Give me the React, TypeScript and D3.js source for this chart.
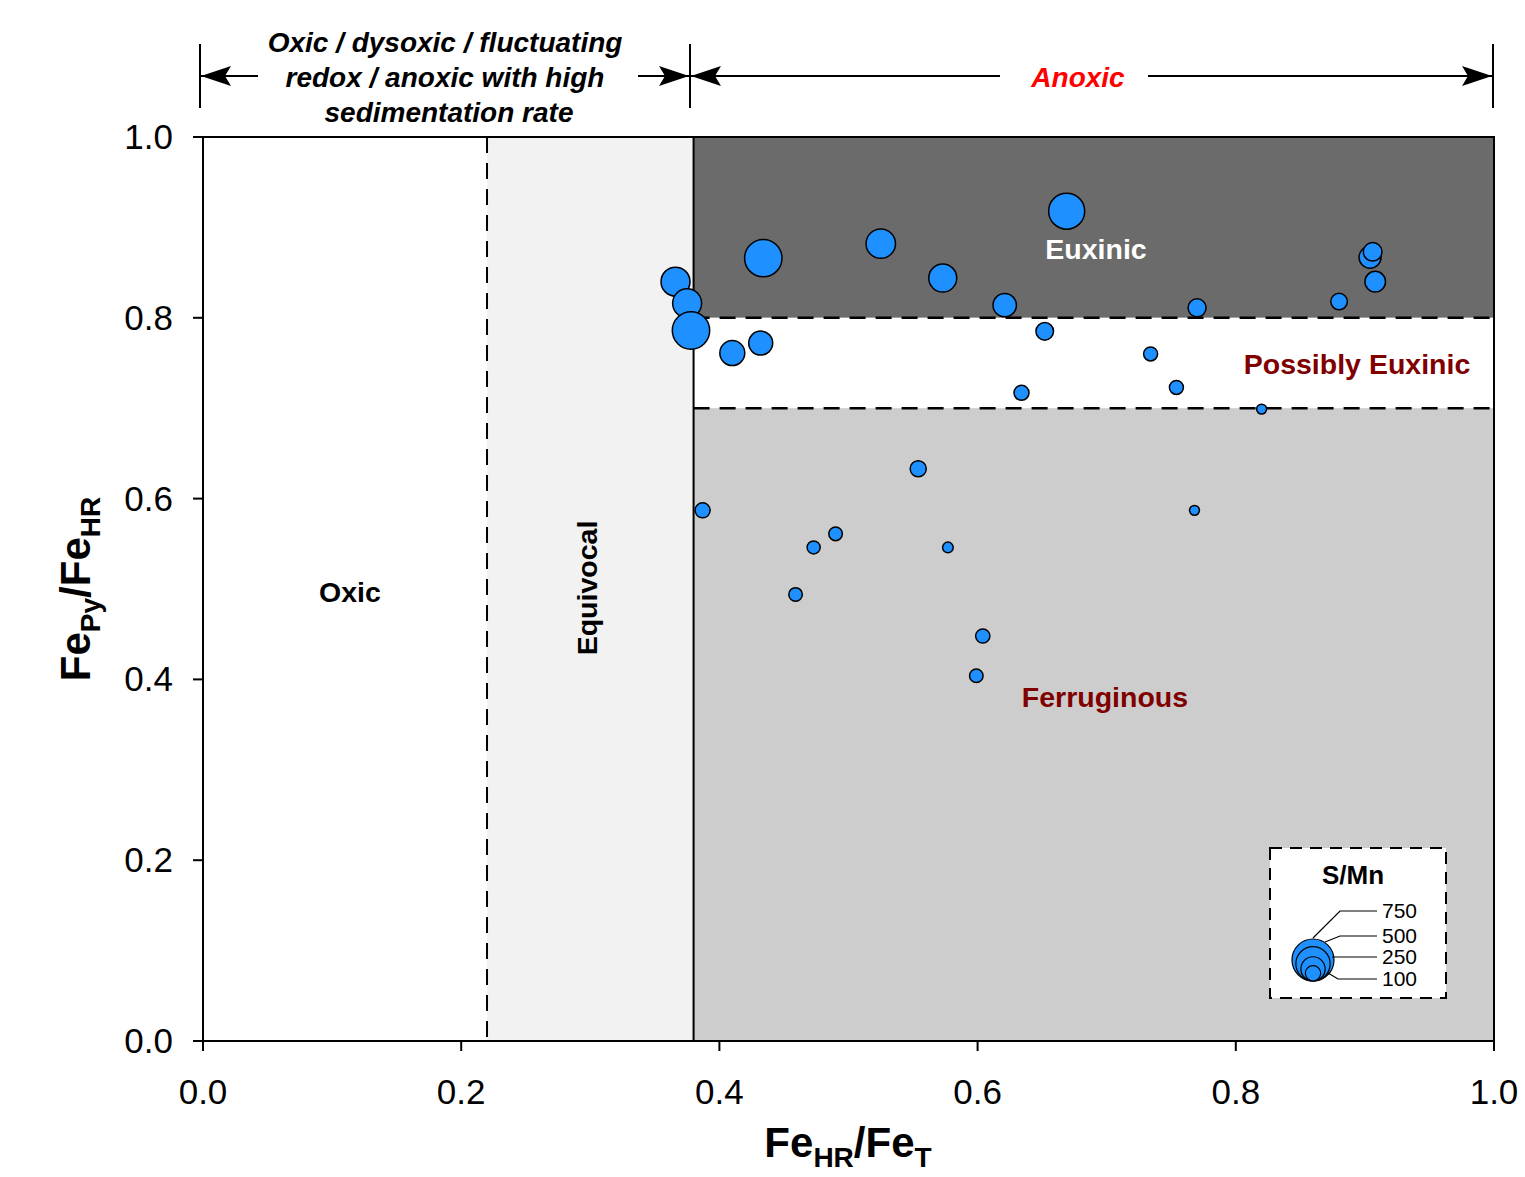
import React from "react";
import * as d3 from "d3";

// Fe speciation cross-plot, bubble size = S/Mn
const feHrFeT = [
  0.366, 0.375, 0.378, 0.434, 0.525, 0.573, 0.621, 0.669, 0.770, 0.880, 0.904, 0.906, 0.908,
  0.410, 0.432, 0.652, 0.634, 0.734, 0.754, 0.820,
  0.387, 0.554, 0.473, 0.490, 0.459, 0.577, 0.604, 0.599, 0.768,
];
const fePyFeHr = [
  0.840, 0.816, 0.786, 0.866, 0.882, 0.844, 0.814, 0.918, 0.811, 0.818, 0.867, 0.873, 0.840,
  0.761, 0.772, 0.785, 0.717, 0.760, 0.723, 0.699,
  0.587, 0.633, 0.546, 0.561, 0.494, 0.546, 0.448, 0.404, 0.587,
];
const sMn = [
  357, 357, 594, 594, 367, 333, 232, 551, 138, 117, 206, 147, 180,
  265, 245, 132, 96, 83, 83, 42,
  96, 110, 72, 78, 78, 48, 86, 78, 42,
];

const ticks = [0, 0.2, 0.4, 0.6, 0.8, 1.0];
const legendValues = [750, 500, 250, 100];

const W = 1525;
const H = 1177;
const margin = { top: 137, left: 203, right: 31, bottom: 136 };

const FONT = "'Liberation Sans', Arial, sans-serif";

export default function App() {
  const x = d3.scaleLinear().domain([0, 1]).range([margin.left, W - margin.right]);
  const y = d3.scaleLinear().domain([0, 1]).range([H - margin.bottom, margin.top]);
  const r = d3.scaleSqrt().domain([0, 750]).range([0, 21]);

  const points = feHrFeT.map((v, i) => ({ x: v, y: fePyFeHr[i], s: sMn[i] }));

  const x0 = x(0), x1 = x(1), y0 = y(0), y1 = y(1);
  const xEq = x(0.22), xAn = x(0.38);
  const arrowY = 76;
  const markTop = 44, markBot = 108;

  // legend geometry
  const lgX = 1270, lgY = 848, lgW = 176, lgH = 150;
  const lcX = 1313, lcBottom = 981;
  const labelX = 1382;
  const labelY = [911, 936, 957, 979];
  const leaderStart = [[1313, 938], [1325, 942], [1332, 957], [1328, 973]];
  const leaderKnee = [[1340, 911], [1340, 936], [1340, 957], [1338, 979]];

  return (
    <svg
      width={W}
      height={H}
      style={{ position: "absolute", left: 0, top: 0, background: "#fff" }}
      fontFamily={FONT}
    >
      <defs>
        <marker id="arr" viewBox="0 0 30 20" refX="30" refY="10" markerWidth="30" markerHeight="20"
          markerUnits="userSpaceOnUse" orient="auto-start-reverse">
          <path d="M0,0 L30,10 L0,20 L6,10 Z" fill="#000" />
        </marker>
      </defs>

      {/* regions */}
      <rect x={x0} y={y1} width={xEq - x0} height={y0 - y1} fill="#ffffff" />
      <rect x={xEq} y={y1} width={xAn - xEq} height={y0 - y1} fill="#f2f2f2" />
      <rect x={xAn} y={y1} width={x1 - xAn} height={y(0.8) - y1} fill="#6b6b6b" />
      <rect x={xAn} y={y(0.8)} width={x1 - xAn} height={y(0.7) - y(0.8)} fill="#ffffff" />
      <rect x={xAn} y={y(0.7)} width={x1 - xAn} height={y0 - y(0.7)} fill="#cdcdcd" />

      <line x1={xEq} x2={xEq} y1={y1} y2={y0} stroke="#000" strokeWidth={2} strokeDasharray="16,10" />
      <line x1={xAn} x2={xAn} y1={y1} y2={y0} stroke="#000" strokeWidth={2} />
      <line x1={xAn} x2={x1} y1={y(0.8)} y2={y(0.8)} stroke="#000" strokeWidth={2.5} strokeDasharray="16,10" />
      <line x1={xAn} x2={x1} y1={y(0.7)} y2={y(0.7)} stroke="#000" strokeWidth={2.5} strokeDasharray="16,10" />

      {/* region labels */}
      <g fontSize={28.5} fontWeight="bold" textAnchor="middle">
        <text x={350} y={602}>Oxic</text>
        <text transform={`translate(597,588) rotate(-90)`}>Equivocal</text>
        <text x={1096} y={259} fill="#ffffff">Euxinic</text>
        <text x={1357} y={374} fill="#800000">Possibly Euxinic</text>
        <text x={1105} y={707} fill="#800000">Ferruginous</text>
      </g>

      {/* frame */}
      <rect x={x0} y={y1} width={x1 - x0} height={y0 - y1} fill="none" stroke="#000" strokeWidth={2} />

      {/* points */}
      {points.map((d, i) => (
        <circle key={i} cx={x(d.x)} cy={y(d.y)} r={r(d.s)} fill="#1e90ff" stroke="#000" strokeWidth={1.5} />
      ))}

      {/* axes */}
      {ticks.map((t) => (
        <g key={"x" + t}>
          <line x1={x(t)} x2={x(t)} y1={y0} y2={y0 + 10} stroke="#000" strokeWidth={2} />
          <text x={x(t)} y={1104} fontSize={35} textAnchor="middle">{t.toFixed(1)}</text>
        </g>
      ))}
      {ticks.map((t) => (
        <g key={"y" + t}>
          <line x1={x0 - 10} x2={x0} y1={y(t)} y2={y(t)} stroke="#000" strokeWidth={2} />
          <text x={173} y={y(t) + 12} fontSize={35} textAnchor="end">{t.toFixed(1)}</text>
        </g>
      ))}

      <text x={848} y={1157} fontSize={42} fontWeight="bold" textAnchor="middle">
        Fe<tspan fontSize={28} dy={10}>HR</tspan><tspan dy={-10}>/Fe</tspan><tspan fontSize={28} dy={10}>T</tspan>
      </text>
      <text transform={`translate(90,589) rotate(-90)`} fontSize={42} fontWeight="bold" textAnchor="middle">
        Fe<tspan fontSize={28} dy={10}>Py</tspan><tspan dy={-10}>/Fe</tspan><tspan fontSize={28} dy={10}>HR</tspan>
      </text>

      {/* top redox annotation */}
      <line x1={200} x2={200} y1={markTop} y2={markBot} stroke="#000" strokeWidth={2} />
      <line x1={690} x2={690} y1={markTop} y2={markBot} stroke="#000" strokeWidth={2} />
      <line x1={1493} x2={1493} y1={markTop} y2={markBot} stroke="#000" strokeWidth={2} />
      <line x1={258} x2={201} y1={arrowY} y2={arrowY} stroke="#000" strokeWidth={2} markerEnd="url(#arr)" />
      <line x1={638} x2={689} y1={arrowY} y2={arrowY} stroke="#000" strokeWidth={2} markerEnd="url(#arr)" />
      <line x1={1000} x2={691} y1={arrowY} y2={arrowY} stroke="#000" strokeWidth={2} markerEnd="url(#arr)" />
      <line x1={1148} x2={1492} y1={arrowY} y2={arrowY} stroke="#000" strokeWidth={2} markerEnd="url(#arr)" />
      <g fontSize={28} fontWeight="bold" fontStyle="italic" textAnchor="middle">
        <text x={445} y={52}>Oxic / dysoxic / fluctuating</text>
        <text x={445} y={87}>redox / anoxic with high</text>
        <text x={449} y={122}>sedimentation rate</text>
        <text x={1078} y={87} fill="#ff0000">Anoxic</text>
      </g>

      {/* legend */}
      <rect x={lgX} y={lgY} width={lgW} height={lgH} fill="#fff" stroke="#000" strokeWidth={2} strokeDasharray="12,8" />
      <text x={1353} y={884} fontSize={26} fontWeight="bold" textAnchor="middle">S/Mn</text>
      {legendValues.map((v) => (
        <circle key={v} cx={lcX} cy={lcBottom - r(v)} r={r(v)} fill="#1e90ff" stroke="#000" strokeWidth={1.2} />
      ))}
      {legendValues.map((v, i) => (
        <g key={"l" + v}>
          <polyline
            points={`${leaderStart[i][0]},${leaderStart[i][1]} ${leaderKnee[i][0]},${leaderKnee[i][1]} 1377,${labelY[i]}`}
            fill="none" stroke="#000" strokeWidth={1.2}
          />
          <text x={labelX} y={labelY[i] + 7} fontSize={21}>{v}</text>
        </g>
      ))}
    </svg>
  );
}
